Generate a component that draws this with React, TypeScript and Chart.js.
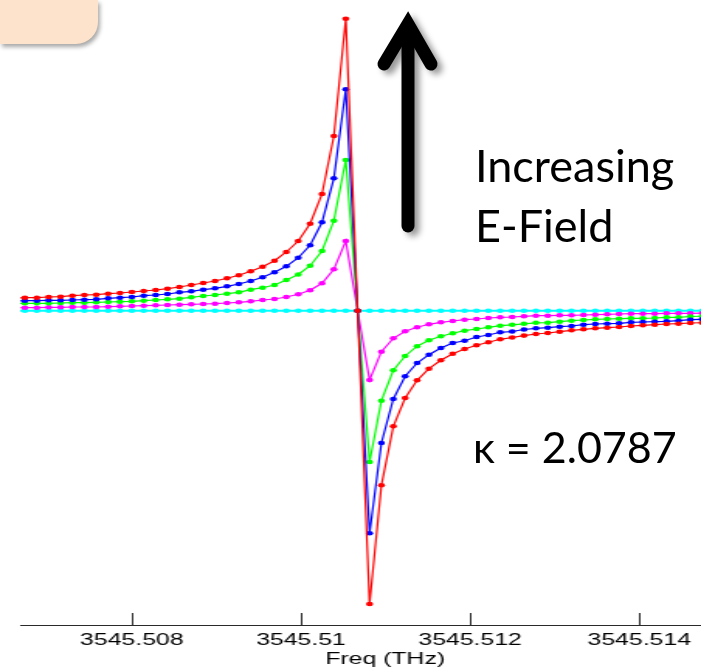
import React, { useEffect, useRef } from "react";
import { Chart, registerables } from "chart.js";

Chart.register(...registerables);

// Frequency samples (THz)
const FREQ_THZ = [
  3545.506596, 3545.506736, 3545.506877, 3545.507017, 3545.507158, 3545.507298,
  3545.507439, 3545.507579, 3545.50772, 3545.50786, 3545.508001, 3545.508141,
  3545.508282, 3545.508422, 3545.508563, 3545.508703, 3545.508844, 3545.508984,
  3545.509125, 3545.509265, 3545.509406, 3545.509546, 3545.509687, 3545.509827,
  3545.509968, 3545.510108, 3545.510249, 3545.510389, 3545.51053, 3545.51067,
  3545.510811, 3545.510951, 3545.511092, 3545.511232, 3545.511373, 3545.511513,
  3545.511654, 3545.511794, 3545.511935, 3545.512075, 3545.512216, 3545.512356,
  3545.512497, 3545.512637, 3545.512778, 3545.512918, 3545.513059, 3545.513199,
  3545.51334, 3545.51348, 3545.513621, 3545.513761, 3545.513902, 3545.514042,
  3545.514183, 3545.514323, 3545.514464, 3545.514604, 3545.514745,
];

// Response (arbitrary units) for increasing E-field
const RED_SERIES = [
  12.7, 13.0, 13.0, 13.7, 14.0, 15.0, 15.7, 16.0, 17.0, 17.7, 18.7, 19.7, 20.7, 22.0,
  23.7, 25.7, 27.7, 29.7, 32.4, 35.4, 39.4, 44.0, 50.0, 58.7, 69.7, 87.0, 116.7, 174.7,
  292.0, 0, -293.3, -174.6, -115.6, -87.3, -69.6, -58.0, -49.6, -43.0, -38.3, -34.6,
  -31.6, -28.6, -26.8, -24.9, -23.3, -22.3, -21.0, -19.6, -18.6, -17.6, -17.0, -16.3,
  -15.3, -14.6, -14.0, -13.3, -13.0, -12.3, -12.0,
];
const BLUE_SERIES = [
  9.8, 10.0, 10.0, 10.4, 10.4, 10.7, 11.0, 11.4, 12.4, 13.0, 13.7, 15.0, 15.7, 16.7,
  18.4, 19.4, 21.0, 22.4, 24.4, 26.7, 29.7, 33.4, 38.4, 44.4, 53.0, 65.4, 88.4, 132.4,
  221.4, 0, -222.6, -132.3, -88.3, -65.6, -52.3, -44.0, -37.3, -32.3, -30.0, -26.3,
  -24.3, -21.6, -20.8, -18.8, -17.6, -17.0, -16.0, -15.3, -14.0, -13.3, -13.0, -12.6,
  -11.6, -11.3, -11.0, -10.6, -10.0, -9.0, -8.6,
];
const GREEN_SERIES = [
  7.2, 7.4, 7.4, 7.4, 7.7, 8.0, 8.0, 8.4, 8.7, 9.0, 9.4, 10.0, 10.7, 11.4,
  12.0, 13.4, 14.7, 15.7, 17.0, 18.4, 21.0, 23.0, 25.7, 30.7, 36.2, 45.0, 59.7, 90.0,
  150.7, 0, -151.3, -90.0, -59.6, -45.3, -35.5, -29.6, -25.6, -22.6, -20.0, -18.3,
  -16.6, -15.0, -14.1, -13.1, -12.1, -12.0, -11.0, -10.0, -9.3, -8.6, -8.3, -8.0,
  -7.6, -7.6, -7.3, -6.6, -6.6, -5.8, -5.5,
];
const MAGENTA_SERIES = [
  2.9, 3.0, 3.0, 3.4, 3.4, 3.7, 3.7, 3.7, 4.0, 4.4, 4.7, 5.0, 5.4, 5.7,
  6.0, 6.4, 6.7, 7.0, 7.7, 8.4, 9.4, 10.7, 11.7, 13.7, 16.5, 20.4, 27.4, 41.4,
  69.7, 0, -69.3, -41.0, -27.6, -20.6, -16.6, -13.6, -11.6, -10.3, -9.0, -8.3,
  -7.3, -6.6, -6.3, -5.6, -5.0, -5.0, -4.6, -4.6, -4.3, -4.0, -3.6, -3.3,
  -3.0, -3.0, -3.0, -2.6, -2.6, -2.6, -2.5,
];
const CYAN_SERIES = [
  0, 0, 0, 0, 0, 0, 0, 0, 0, 0, 0, 0, 0, 0, 0, 0, 0, 0, 0, 0,
  0, 0, 0, 0, 0, 0, 0, 0, 0, 0, 0, 0, 0, 0, 0, 0, 0, 0, 0, 0,
  0, 0, 0, 0, 0, 0, 0, 0, 0, 0, 0, 0, 0, 0, 0, 0, 0, 0, 0,
];

const X_TICKS = [3545.508, 3545.51, 3545.512, 3545.514];
const X_MIN = 3545.50668;
const X_MAX = 3545.51473;
const Y_MIN = -314.3;
const Y_MAX = 310.7;

const X_TITLE = "Freq (THz)";
const LABEL_LINE_1 = "Increasing";
const LABEL_LINE_2 = "E-Field";
const KAPPA_LABEL = "κ = 2.0787";

const PAGE_W = 701;
const PAGE_H = 671;
const CANVAS_W = 452;
const STRETCH = PAGE_W / CANVAS_W;

const AXIS_FONT = '"Liberation Sans", Arial, sans-serif';

// Inward tick marks and the axis title (placed as in the original figure, slightly right of centre)
const axisDecor = {
  id: "axisDecor",
  afterDraw(chart: any) {
    const s = chart.scales.x;
    const ctx = chart.ctx;
    ctx.save();
    ctx.strokeStyle = "#2a2a2a";
    ctx.lineWidth = 1;
    s.ticks.forEach((t: any) => {
      const px = Math.round(s.getPixelForValue(t.value)) + 0.5;
      ctx.beginPath();
      ctx.moveTo(px, s.top);
      ctx.lineTo(px, s.top - 12);
      ctx.stroke();
    });
    ctx.fillStyle = "#000";
    ctx.font = `16px ${AXIS_FONT}`;
    ctx.textAlign = "center";
    ctx.textBaseline = "alphabetic";
    const cx = s.left + (s.right - s.left) * 0.536;
    ctx.fillText(X_TITLE, cx, s.bottom - 7);
    ctx.restore();
  },
};

function makeDataset(values: number[], color: string, width: number) {
  return {
    data: FREQ_THZ.map((f, i) => ({ x: f, y: values[i] })),
    borderColor: color,
    backgroundColor: color,
    pointBackgroundColor: color,
    pointBorderWidth: 0,
    pointRadius: 2.3,
    borderWidth: width,
    tension: 0,
    fill: false,
    clip: 0,
  };
}

export default function App() {
  const ref = useRef<HTMLCanvasElement | null>(null);

  useEffect(() => {
    if (!ref.current) return;
    const chart = new Chart(ref.current, {
      type: "line",
      data: {
        datasets: [
          makeDataset(RED_SERIES, "#ff0000", 1.2),
          makeDataset(BLUE_SERIES, "#0000ff", 1.2),
          makeDataset(GREEN_SERIES, "#00ff00", 1.2),
          makeDataset(MAGENTA_SERIES, "#ff00ff", 1.2),
          makeDataset(CYAN_SERIES, "#00ffff", 2),
        ] as any,
      },
      options: {
        responsive: false,
        animation: false,
        devicePixelRatio: 1,
        layout: { autoPadding: false, padding: { left: 13, right: 0, top: 0, bottom: 0 } },
        plugins: { legend: { display: false }, tooltip: { enabled: false } },
        scales: {
          x: {
            type: "linear",
            position: "bottom",
            min: X_MIN,
            max: X_MAX,
            grid: { display: false, drawTicks: false },
            border: { display: true, color: "#2a2a2a", width: 1 },
            afterBuildTicks: (s: any) => {
              s.ticks = X_TICKS.map((v) => ({ value: v }));
            },
            afterFit: (s: any) => {
              s.height = 46;
            },
            ticks: {
              padding: 6,
              color: "#000",
              autoSkip: false,
              maxRotation: 0,
              font: { family: AXIS_FONT, size: 16 },
              callback: (v: any) => String(Number(Number(v).toFixed(3))),
            },
            title: { display: false },
          },
          y: { display: false, min: Y_MIN, max: Y_MAX },
        },
      } as any,
      plugins: [axisDecor],
    });
    return () => chart.destroy();
  }, []);

  const textStyle: React.CSSProperties = {
    position: "absolute",
    left: 475,
    fontFamily: "Lato, 'Open Sans', sans-serif",
    fontSize: 45,
    lineHeight: "1",
    color: "#000",
    whiteSpace: "nowrap",
  };

  return (
    <div
      style={{
        position: "absolute",
        left: 0,
        top: 0,
        width: PAGE_W,
        height: PAGE_H,
        overflow: "hidden",
        background: "#fff",
      }}
    >
      <div
        style={{
          position: "absolute",
          left: 0,
          top: 0,
          width: CANVAS_W,
          height: PAGE_H,
          transform: `scaleX(${STRETCH})`,
          transformOrigin: "0 0",
        }}
      >
        <canvas ref={ref} width={CANVAS_W} height={PAGE_H} style={{ display: "block" }} />
      </div>
      <div
        style={{
          position: "absolute",
          left: 0,
          top: 0,
          width: 98,
          height: 44,
          background: "#fde3cb",
          borderBottomRightRadius: 22,
          boxShadow: "2px 3px 4px rgba(0,0,0,0.35)",
        }}
      />
      <svg
        width={PAGE_W}
        height={PAGE_H}
        style={{ position: "absolute", left: 0, top: 0, pointerEvents: "none" }}
      >
        <defs>
          <filter id="sh" x="-50%" y="-20%" width="200%" height="150%">
            <feDropShadow dx="5" dy="4" stdDeviation="3" floodColor="#000" floodOpacity="0.4" />
          </filter>
        </defs>
        <g filter="url(#sh)" stroke="#000" strokeWidth={13} fill="none">
          <path d="M408 226 L408 30" strokeLinecap="round" />
          <path d="M384 64 L408 24 L431 64" strokeLinecap="round" strokeLinejoin="miter" />
        </g>
      </svg>
      <div style={{ ...textStyle, top: 143 }}>{LABEL_LINE_1}</div>
      <div style={{ ...textStyle, top: 203 }}>{LABEL_LINE_2}</div>
      <div style={{ ...textStyle, left: 473, top: 425, fontSize: 43 }}>{KAPPA_LABEL}</div>
    </div>
  );
}
